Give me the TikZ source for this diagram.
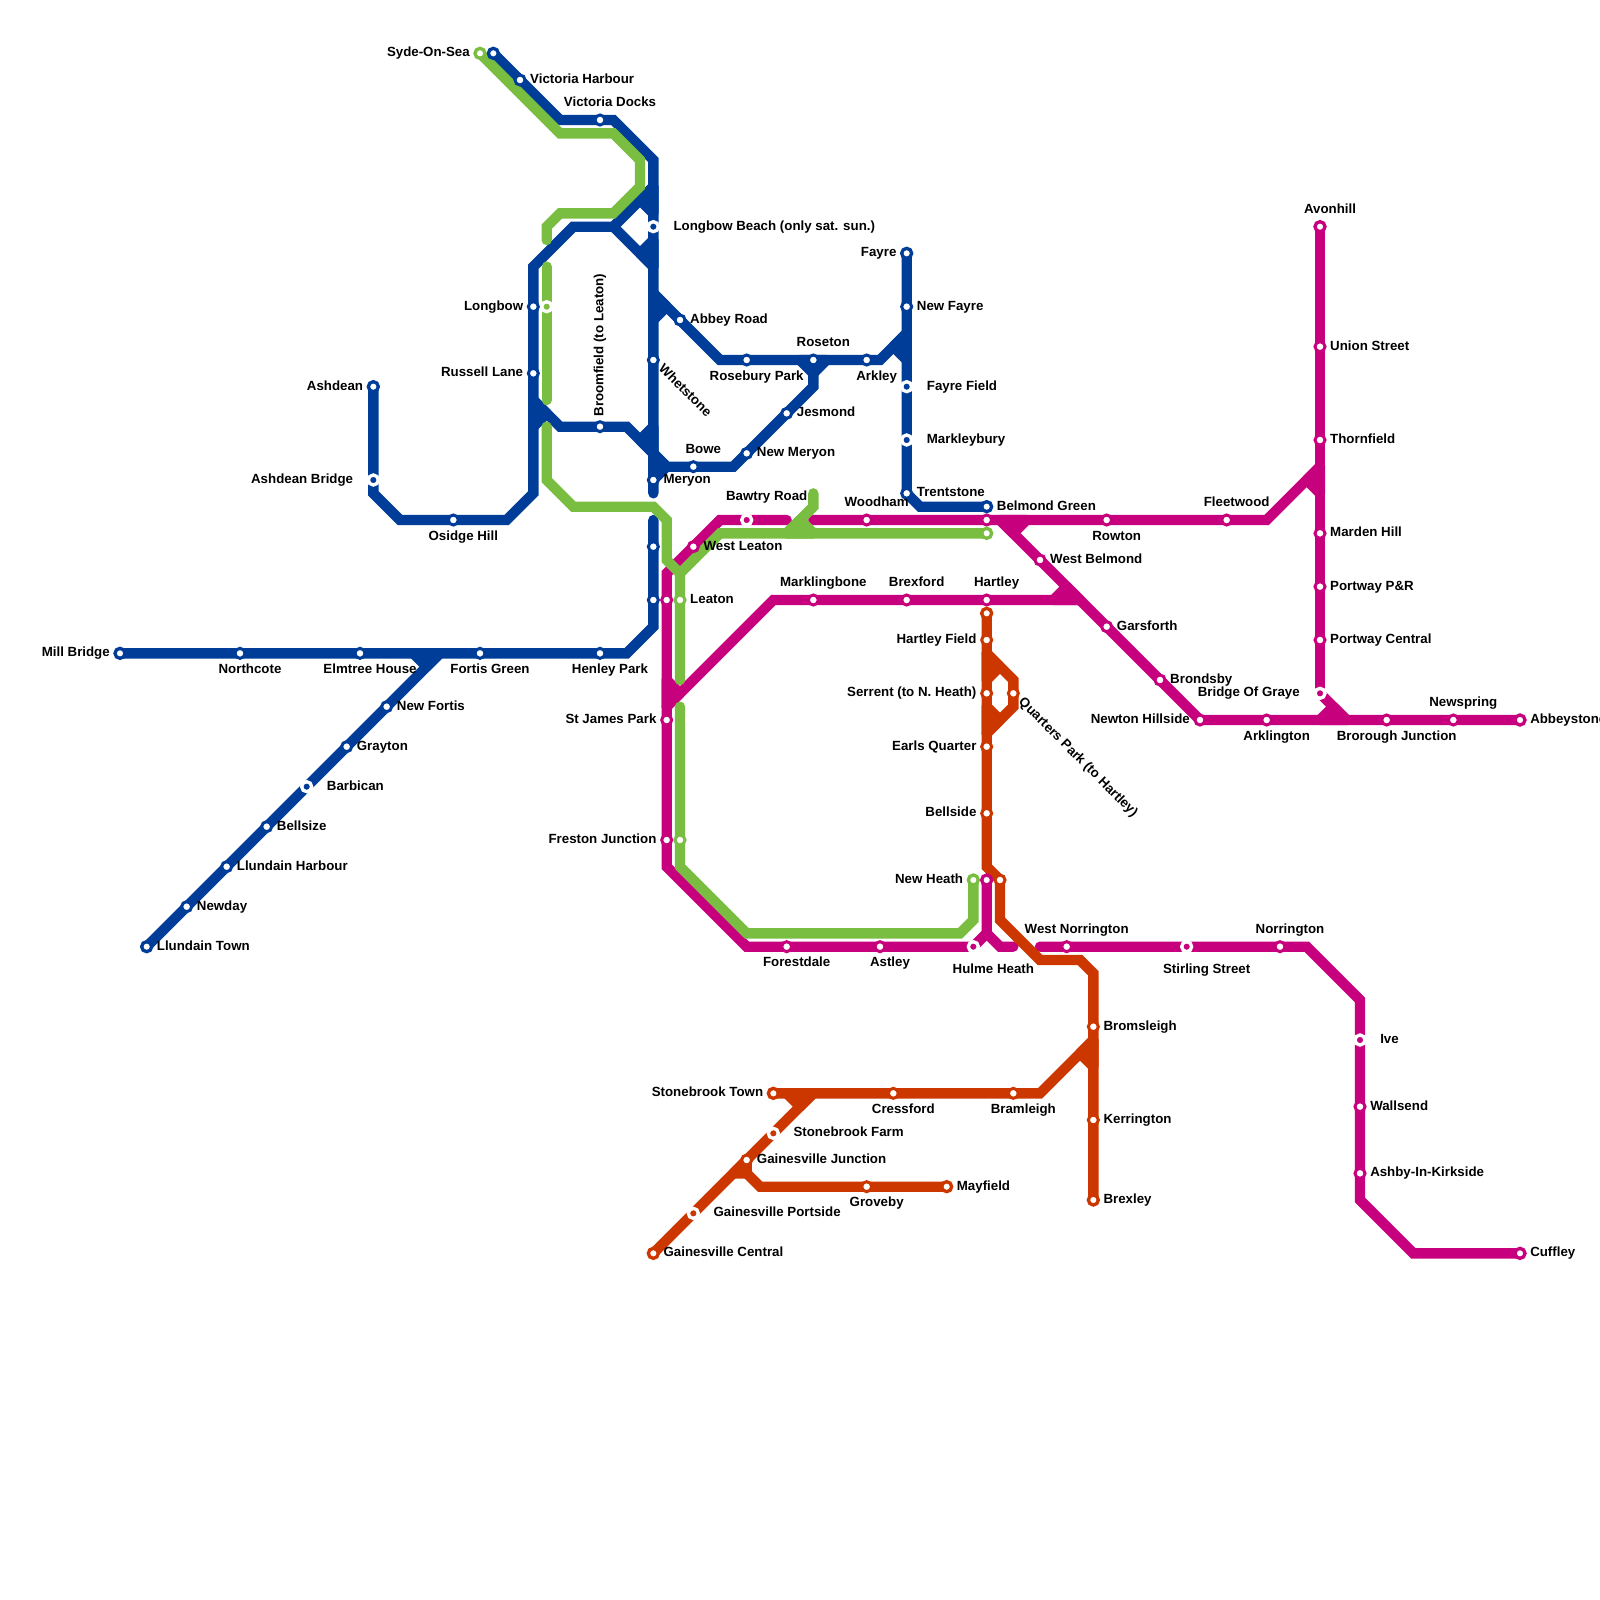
\documentclass[tikz,border=0pt]{standalone}
\usepackage{fontspec}
\setmainfont{Liberation Sans}
\usepackage{xcolor}
\usetikzlibrary{calc, backgrounds}
\definecolor{metroBlue}{HTML}{003D99}
\definecolor{metroGreen}{HTML}{79BD41}
\definecolor{metroPink}{HTML}{C7007D}
\definecolor{metroRust}{HTML}{CC3700}
\tikzset{
  route/.style={draw=#1, line width=0.31cm, line cap=round, line join=miter},
  wedge/.style={route=#1, fill=#1, line join=round},
  stop/.style={circle, fill=white, draw=#1, line width=0.09cm,
    minimum size=0.3cm, inner sep=0pt, outer sep=0pt},
  endstop/.style={circle, fill=white, draw=#1, line width=0.1cm,
    minimum size=0.3cm, inner sep=0pt, outer sep=0pt},
  dotstop/.style={circle, fill=#1, draw=white, line width=0.1cm,
    minimum size=0.3cm, inner sep=0pt, outer sep=0pt},
  stoplabel/.style={font=\fontsize{11.35}{13}\selectfont\bfseries, text=black, inner sep=0pt},
}
\begin{document}
\begin{tikzpicture}[x=0.4cm, y=-0.4cm]
  \useasboundingbox (0,0) rectangle (120,120);
  % ---------------- stations ----------------
  \foreach \nm/\x/\y in {northcote/18/49, elmtree/27/49, fortis/36/49, henley/45/49,
      leatonB/49/45, westLeatonB/49/41, newday/14/68, llundainHarbour/17/65,
      bellsize/20/62, grayton/26/56, newFortis/29/53, victoriaHarbour/39/6,
      victoriaDocks/45/9, whetstone/49/27, meryon/49/36,
      osidge/34/39, longbow/40/23, russell/40/28, broomfield/45/32, bowe/52/35,
      newMeryon/56/34, jesmond/59/31, abbey/51/24, rosebury/56/27, roseton/61/27,
      arkley/65/27, newFayre/68/23, trentstone/68/37}
    \node[stop=metroBlue] (\nm) at (\x,\y) {};
  \foreach \nm/\x/\y in {millBridge/9/49, llundainTown/11/71, victoriaEnd/37/4,
      ashdean/28/29, fayre/68/19, belmondGreen/74/38}
    \node[endstop=metroBlue] (\nm) at (\x,\y) {};
  \foreach \nm/\x/\y in {barbican/23/59, ashdeanBridge/28/36, longbowBeach/49/17,
      fayreField/68/29, markleybury/68/33}
    \node[dotstop=metroBlue] (\nm) at (\x,\y) {};
  \foreach \nm/\x/\y in {westLeaton/52/41, leatonP/50/45, stJames/50/54, frestonP/50/63,
      forestdale/59/71, astley/66/71, woodham/65/39, belmondP/74/39, rowton/83/39,
      fleetwood/92/39, marklingbone/61/45, brexford/68/45, hartley/74/45,
      westBelmond/78/42, garsforth/83/47, brondsby/87/51, newton/90/54,
      arklington/95/54, brorough/104/54, newspring/109/54, unionSt/99/26,
      thornfield/99/33, marden/99/40, portwayPR/99/44, portwayCentral/99/48,
      westNorrington/80/71, norrington/96/71, wallsend/102/83, ashby/102/88}
    \node[stop=metroPink] (\nm) at (\x,\y) {};
  \foreach \nm/\x/\y in {avonhill/99/17, abbeystone/114/54, cuffley/114/94, hulmeEnd/74/66}
    \node[endstop=metroPink] (\nm) at (\x,\y) {};
  \foreach \nm/\x/\y in {bawtry/56/39, hulmeHeath/73/71, stirling/89/71, graye/99/52, ive/102/78}
    \node[dotstop=metroPink] (\nm) at (\x,\y) {};
  \foreach \nm/\x/\y in {leatonG/51/45, frestonG/51/63}
    \node[stop=metroGreen] (\nm) at (\x,\y) {};
  \foreach \nm/\x/\y in {syde/36/4, newHeath/73/66, belmondEnd/74/40}
    \node[endstop=metroGreen] (\nm) at (\x,\y) {};
  \node[dotstop=metroGreen] (longbowG) at (41,23) {};
  \foreach \nm/\x/\y in {hartleyField/74/48, serrent/74/52, earls/74/56, bellside/74/61,
      newHeathR/75/66, quarters/76/52, bromsleigh/82/77, kerrington/82/84, cressford/67/82,
      bramleigh/76/82, junction/56/87, groveby/65/89}
    \node[stop=metroRust] (\nm) at (\x,\y) {};
  \foreach \nm/\x/\y in {hartleyEnd/74/46, brexley/82/90, stonebrookTown/58/82,
      gainesvilleCentral/49/94, mayfield/71/89}
    \node[endstop=metroRust] (\nm) at (\x,\y) {};
  \foreach \nm/\x/\y in {stonebrookFarm/58/85, portside/52/91}
    \node[dotstop=metroRust] (\nm) at (\x,\y) {};
  % free line ends
  \coordinate (blueStubS) at (49,39);
  \coordinate (meryonEnd) at (49,37);
  \coordinate (fortisEnd) at (33,49);
  \coordinate (pinkGapW) at (59,39);
  \coordinate (pinkGapE) at (61,39);
  \coordinate (hulmeGap) at (76,71);
  \coordinate (norringtonGap) at (78,71);
  \coordinate (greenGapN) at (41,18);
  \coordinate (greenGapS) at (41,20);
  \coordinate (greenMidN) at (41,30);
  \coordinate (greenMidS) at (41,32);
  \coordinate (greenLowN) at (51,51);
  \coordinate (greenLowS) at (51,53);
  % ---------------- lines ----------------
  \begin{scope}[on background layer]
    % blue
    \draw[route=metroBlue] (millBridge.center) -- (northcote.center) -- (elmtree.center)
      -- (fortis.center) -- (henley.center) -- (47,49) -- (49,47) -- (leatonB.center)
      -- (westLeatonB.center) -- (blueStubS);
    \draw[route=metroBlue] (llundainTown.center) -- (newday.center) -- (llundainHarbour.center)
      -- (bellsize.center) -- (barbican.center) -- (grayton.center) -- (newFortis.center)
      -- (fortisEnd);
    \draw[route=metroBlue] (victoriaEnd.center) -- (victoriaHarbour.center) -- (42,9)
      -- (victoriaDocks.center) -- (46,9) -- (49,12) -- (longbowBeach.center)
      -- (whetstone.center) -- (meryon.center) -- (meryonEnd);
    \draw[route=metroBlue] (ashdean.center) -- (ashdeanBridge.center) -- (28,37) -- (30,39)
      -- (osidge.center) -- (38,39) -- (40,37) -- (russell.center) -- (longbow.center)
      -- (40,20) -- (43,17) -- (46,17) -- (49,14);
    \draw[route=metroBlue] (46,17) -- (49,20);
    \draw[route=metroBlue] (40,30) -- (42,32) -- (broomfield.center) -- (47,32) -- (49,34)
      -- (50,35) -- (bowe.center) -- (55,35) -- (newMeryon.center) -- (jesmond.center)
      -- (61,29) -- (roseton.center);
    \draw[route=metroBlue] (49,22) -- (abbey.center) -- (54,27) -- (rosebury.center)
      -- (roseton.center) -- (arkley.center) -- (66,27) -- (68,25);
    \draw[route=metroBlue] (fayre.center) -- (newFayre.center) -- (fayreField.center)
      -- (markleybury.center) -- (trentstone.center) -- (69,38) -- (belmondGreen.center);
    \foreach \xa/\ya/\xb/\yb/\xc/\yc in {31/49/32/50/33/49, 48/15/49/16/49/14, 48/19/49/18/49/20,
        49/24/50/23/49/22, 40/32/41/31/40/30, 48/33/49/32/49/34, 50/35/49/36/49/34,
        60/27/61/28/62/27, 68/27/67/26/68/25}
      \draw[wedge=metroBlue] (\xa,\ya) -- (\xb,\yb) -- (\xc,\yc) -- cycle;
    % pink
    \draw[route=metroPink] (pinkGapW) -- (bawtry.center) -- (54,39) -- (westLeaton.center)
      -- (50,43) -- (leatonP.center) -- (stJames.center) -- (frestonP.center) -- (50,65)
      -- (56,71) -- (forestdale.center) -- (astley.center) -- (hulmeHeath.center);
    \draw[route=metroPink] (50,53) -- (58,45) -- (marklingbone.center) -- (brexford.center)
      -- (hartley.center) -- (81,45);
    \draw[route=metroPink] (pinkGapE) -- (woodham.center) -- (belmondP.center)
      -- (rowton.center) -- (fleetwood.center) -- (95,39) -- (99,35);
    \draw[route=metroPink] (75,39) -- (westBelmond.center) -- (garsforth.center)
      -- (brondsby.center) -- (newton.center) -- (arklington.center) -- (brorough.center)
      -- (newspring.center) -- (abbeystone.center);
    \draw[route=metroPink] (avonhill.center) -- (unionSt.center) -- (thornfield.center)
      -- (marden.center) -- (portwayPR.center) -- (portwayCentral.center) -- (graye.center);
    \draw[route=metroPink] (graye.center) -- (101,54);
    \draw[route=metroPink] (hulmeEnd.center) -- (74,70) -- (75,71) -- (hulmeGap);
    \draw[route=metroPink] (74,70) -- (hulmeHeath.center);
    \draw[route=metroPink] (norringtonGap) -- (westNorrington.center) -- (stirling.center)
      -- (norrington.center) -- (98,71) -- (102,75) -- (ive.center) -- (wallsend.center)
      -- (ashby.center) -- (102,90) -- (106,94) -- (cuffley.center);
    \foreach \xa/\ya/\xb/\yb/\xc/\yc in {50/51/51/52/50/53, 79/45/80/44/81/45, 77/39/76/40/75/39,
        98/36/99/37/99/35, 99/54/100/53/101/54}
      \draw[wedge=metroPink] (\xa,\ya) -- (\xb,\yb) -- (\xc,\yc) -- cycle;
    % rust
    \draw[route=metroRust] (hartleyEnd.center) -- (hartleyField.center) -- (serrent.center)
      -- (earls.center) -- (bellside.center) -- (74,65) -- (newHeathR.center) -- (75,69)
      -- (78,72) -- (81,72) -- (82,73) -- (bromsleigh.center) -- (kerrington.center)
      -- (brexley.center);
    \draw[route=metroRust] (74,49) -- (76,51) -- (quarters.center) -- (76,53) -- (74,55);
    \draw[route=metroRust] (stonebrookTown.center) -- (cressford.center) -- (bramleigh.center)
      -- (78,82) -- (82,78);
    \draw[route=metroRust] (gainesvilleCentral.center) -- (portside.center) -- (junction.center)
      -- (stonebrookFarm.center) -- (61,82);
    \draw[route=metroRust] (junction.center) -- (56,88) -- (57,89) -- (groveby.center)
      -- (mayfield.center);
    \foreach \xa/\ya/\xb/\yb/\xc/\yc in {75/50/74/51/74/49, 74/53/75/54/74/55, 81/79/82/80/82/78,
        59/82/60/83/61/82, 55/88/56/88/56/87}
      \draw[wedge=metroRust] (\xa,\ya) -- (\xb,\yb) -- (\xc,\yc) -- cycle;
    % green
    \draw[route=metroGreen] (syde.center) -- (42,10) -- (46,10) -- (48,12) -- (48,14) -- (46,16)
      -- (42,16) -- (41,17) -- (greenGapN);
    \draw[route=metroGreen] (greenGapS) -- (longbowG.center) -- (greenMidN);
    \draw[route=metroGreen] (greenMidS) -- (41,36) -- (43,38) -- (49,38) -- (50,39) -- (50,42)
      -- (51,43) -- (leatonG.center) -- (greenLowN);
    \draw[route=metroGreen] (greenLowS) -- (frestonG.center) -- (51,65) -- (56,70) -- (72,70)
      -- (73,69) -- (newHeath.center);
    \draw[route=metroGreen] (51,43) -- (54,40) -- (belmondEnd.center);
    \draw[route=metroGreen] (61,37) -- (61,38) -- (59,40);
    \draw[wedge=metroGreen] (60,39) -- (61,40) -- (59,40) -- cycle;
  \end{scope}
  % ---------------- labels ----------------
  \foreach \nm/\dx/\txt in {victoriaHarbour/0.75/Victoria Harbour, abbey/0.75/Abbey Road,
      longbowBeach/1.5/Longbow Beach (only sat. sun.), fayreField/1.5/Fayre Field,
      markleybury/1.5/Markleybury, newFayre/0.75/New Fayre, trentstone/0.75/Trentstone,
      belmondGreen/0.75/Belmond Green, jesmond/0.75/Jesmond, newMeryon/0.75/New Meryon,
      meryon/0.75/Meryon, westLeaton/0.75/West Leaton, leatonG/0.75/Leaton,
      barbican/1.5/Barbican, newFortis/0.75/New Fortis, grayton/0.75/Grayton,
      bellsize/0.75/Bellsize, llundainHarbour/0.75/Llundain Harbour, newday/0.75/Newday,
      llundainTown/0.75/Llundain Town, westBelmond/0.75/West Belmond, garsforth/0.75/Garsforth,
      brondsby/0.75/Brondsby, unionSt/0.75/Union Street, thornfield/0.75/Thornfield,
      marden/0.75/Marden Hill, portwayPR/0.75/Portway P\&R, portwayCentral/0.75/Portway Central,
      abbeystone/0.75/Abbeystone, bromsleigh/0.75/Bromsleigh, kerrington/0.75/Kerrington,
      brexley/0.75/Brexley, ive/1.5/Ive, wallsend/0.75/Wallsend, ashby/0.75/Ashby-In-Kirkside,
      cuffley/0.75/Cuffley, stonebrookFarm/1.5/Stonebrook Farm, junction/0.75/Gainesville Junction,
      portside/1.5/Gainesville Portside, gainesvilleCentral/0.75/Gainesville Central,
      mayfield/0.75/Mayfield}
    \node[stoplabel, anchor=base west] (\nm Lbl) at ($(\nm.center)+(\dx,0.25)$) {\txt};
  \foreach \nm/\dx/\txt in {syde/0.75/Syde-On-Sea, millBridge/0.75/Mill Bridge, ashdean/0.75/Ashdean,
      ashdeanBridge/1.5/Ashdean Bridge, longbow/0.75/Longbow, russell/0.75/Russell Lane,
      fayre/0.75/Fayre, stJames/0.75/St James Park, frestonP/0.75/Freston Junction,
      hartleyField/0.75/Hartley Field, serrent/0.75/Serrent (to N. Heath),
      earls/0.75/Earls Quarter, bellside/0.75/Bellside, newHeath/0.75/New Heath,
      stonebrookTown/0.75/Stonebrook Town, newton/0.75/Newton Hillside, graye/1.5/Bridge Of Graye}
    \node[stoplabel, anchor=base east] (\nm Lbl) at ($(\nm.center)+(-\dx,0.25)$) {\txt};
  \foreach \nm/\dx/\dy/\txt in {victoriaDocks/0.75/-1/Victoria Docks, bowe/0.75/-1/Bowe,
      roseton/0.75/-1/Roseton, bawtry/1.5/-1.5/Bawtry Road, woodham/0.75/-1/Woodham,
      marklingbone/0.75/-1/Marklingbone, brexford/0.75/-1/Brexford, hartley/0.75/-1/Hartley,
      fleetwood/0.75/-1/Fleetwood, avonhill/0.75/-1/Avonhill, westNorrington/0.75/-1/West Norrington,
      norrington/0.75/-1/Norrington, newspring/0.75/-1/Newspring,
      northcote/0.75/1.5/Northcote, elmtree/0.75/1.5/Elmtree House, fortis/0.75/1.5/Fortis Green,
      henley/0.75/1.5/Henley Park, osidge/0.75/1.5/Osidge Hill, rosebury/0.75/1.5/Rosebury Park,
      arkley/0.75/1.5/Arkley, rowton/0.75/1.5/Rowton, arklington/0.75/1.5/Arklington,
      brorough/0.75/1.5/Brorough Junction, forestdale/0.75/1.5/Forestdale, astley/0.75/1.5/Astley,
      hulmeHeath/1.5/2/Hulme Heath, stirling/1.5/2/Stirling Street, cressford/0.75/1.5/Cressford,
      bramleigh/0.75/1.5/Bramleigh, groveby/0.75/1.5/Groveby}
    \node[stoplabel, anchor=base] (\nm Lbl) at ($(\nm.center)+(\dx,\dy)$) {\txt};
  \node[stoplabel, anchor=base west, rotate=90] (broomfieldLbl)
    at ($(broomfield.center)+(0.25,-0.75)$) {Broomfield (to Leaton)};
  \node[stoplabel, anchor=base west, rotate=-45] (whetstoneLbl)
    at ($(whetstone.center)+(0.354,0.707)$) {Whetstone};
  \node[stoplabel, anchor=base west, rotate=-45] (quartersLbl)
    at ($(quarters.center)+(0.354,0.707)$) {Quarters Park (to Hartley)};
\end{tikzpicture}
\end{document}
